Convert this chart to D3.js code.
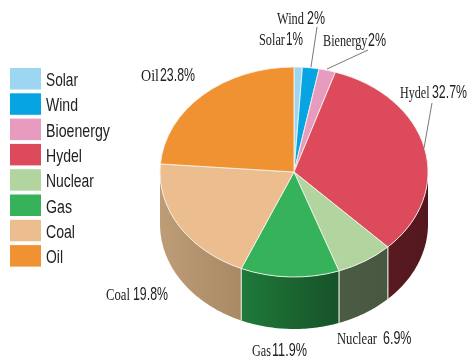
<!DOCTYPE html>
<html><head><meta charset="utf-8">
<script src="https://cdn.jsdelivr.net/npm/d3@7"></script>
<style>html,body{margin:0;padding:0;background:#fff}svg{display:block;filter:blur(0.4px)}</style>
</head><body><svg id="c" width="468" height="359"></svg>
<script>
const categories=["Solar","Wind","Bioenergy","Hydel","Nuclear","Gas","Coal","Oil"];
const values=[1,2,2,32.7,6.9,11.9,19.8,23.8];
const colors=["#9dd6f2","#06a4e2","#e69bbf","#dd4a5c","#b2d5a0","#35b25a","#ecbd8e","#f19232"];
const sideLight=["#8ab","#08c","#c8a","#581a20","#4c5c44","#1f7a3a","#bd9c77","#c87a2a"];
const sideDark=["#8ab","#08c","#c8a","#53171d","#485840","#175229","#a98a65","#c87a2a"];
const labelNames=["Solar","Wind","Bienergy","Hydel","Nuclear","Gas","Coal","Oil"];
const labelValues=["1%","2%","2%","32.7%","6.9%","11.9%","19.8%","23.8%"];
// layout of each label: name x, name width, value x, value width, baseline
const labelBoxes=[[259,26,286,17,45],[277,27,307,18,23.5],[323,44.5,368,18,45.5],[400,29.5,432,35,97.5],[337,40,383,28.5,344],[252,19,272,35,356],[106,24,133,35,300],[141,18,160,35,81]];
const leaders=[null,[[317,27],[311,67]],[[368,50],[327,69]],[[432,103],[424,148]],null,null,null,null];
const legendWidths=[32,32,64,36,48,26,29,17];

const cx=294,cy=172,rx=134,ry=105,depth=52;
const svg=d3.select("#c");
const defs=svg.append("defs");
const pie=d3.pie().sort(null).value(d=>d)(values);
const px=d3.scaleLinear().domain([-1,1]).range([cx-rx,cx+rx]);
const py=d3.scaleLinear().domain([-1,1]).range([cy-ry,cy+ry]);
const ptX=a=>px(Math.sin(a)),ptY=a=>py(-Math.cos(a));

function fit(x,y,w,size,family,fill,str){
  const t=svg.append("text").attr("font-family",family).attr("font-size",size).attr("fill",fill).text(str);
  const k=w/t.node().getComputedTextLength();
  t.attr("transform",`translate(${x},${y}) scale(${k},1)`);
  return t;
}

const sides=svg.append("g");
pie.forEach((p,i)=>{
  const a0=Math.max(p.startAngle,Math.PI/2),a1=Math.min(p.endAngle,Math.PI*1.5);
  if(a1<=a0)return;
  const id="g"+i;
  const g=defs.append("linearGradient").attr("id",id).attr("gradientUnits","userSpaceOnUse")
    .attr("x1",ptX(a1)).attr("x2",ptX(a0)).attr("y1",0).attr("y2",0);
  g.append("stop").attr("offset",0).attr("stop-color",sideLight[i]);
  g.append("stop").attr("offset",1).attr("stop-color",sideDark[i]);
  const pts=d3.range(0,41).map(k=>a0+(a1-a0)*k/40);
  const area=d3.area().x(ptX).y0(ptY).y1(a=>ptY(a)+depth);
  sides.append("path").attr("d",area(pts)).attr("fill",`url(#${id})`);
  [a0,a1].forEach(a=>{
    if(a>Math.PI/2+0.01&&a<Math.PI*1.5-0.01)
      sides.append("line").attr("x1",ptX(a)).attr("x2",ptX(a)).attr("y1",ptY(a)).attr("y2",ptY(a)+depth)
        .attr("stroke","#d8e4d8").attr("stroke-width",1);
  });
});

const arc=d3.arc().innerRadius(0).outerRadius(rx);
const face=svg.append("g").attr("transform",`translate(${cx},${cy}) scale(1,${ry/rx})`);
face.selectAll("path").data(pie).join("path")
  .attr("d",arc).attr("fill",(d,i)=>colors[i])
  .attr("stroke","#f3f3ea").attr("stroke-width",1);

const line=d3.line();
leaders.forEach(l=>{ if(l) svg.append("path").attr("d",line(l)).attr("fill","none").attr("stroke","#555").attr("stroke-width",0.8); });

labelBoxes.forEach((b,i)=>{
  fit(b[0],b[4],b[1],17,"Liberation Serif","#222",labelNames[i]);
  fit(b[2],b[4],b[3],17.5,"Liberation Sans","#222",labelValues[i]);
});

const ly=d3.scaleBand().domain(categories).range([68,68+25.3*8]);
const legend=svg.append("g");
categories.forEach((c,i)=>{
  legend.append("rect").attr("x",10).attr("y",ly(c)).attr("width",31).attr("height",21.5).attr("fill",colors[i]);
  fit(46,ly(c)+18,legendWidths[i],18,"Liberation Sans","#222",c);
});
</script></body></html>
